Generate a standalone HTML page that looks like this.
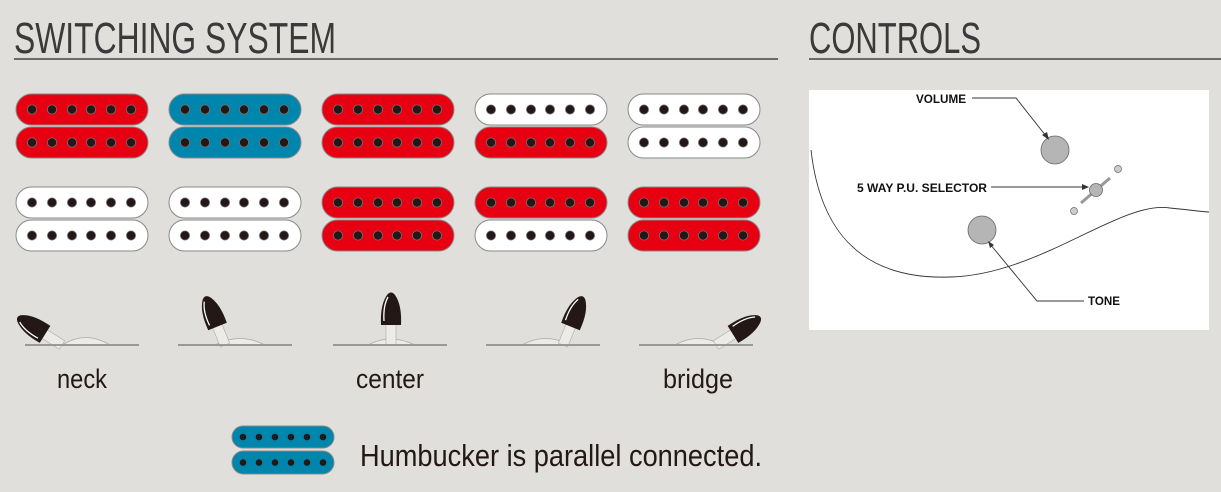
<!DOCTYPE html>
<html><head><meta charset="utf-8"><style>
html,body{margin:0;padding:0;background:#e0dfdb;}
svg{display:block}
</style></head><body>
<svg width="1221" height="492" viewBox="0 0 1221 492" xmlns="http://www.w3.org/2000/svg">
<defs>
<g id="dots">
<circle cx="32" cy="0" r="4.6"/><circle cx="52" cy="0" r="4.6"/><circle cx="72" cy="0" r="4.6"/><circle cx="91" cy="0" r="4.6"/><circle cx="111" cy="0" r="4.6"/><circle cx="131" cy="0" r="4.6"/>
</g>
<g id="ldots">
<circle cx="243" cy="0" r="3.3"/><circle cx="259" cy="0" r="3.3"/><circle cx="275" cy="0" r="3.3"/><circle cx="291" cy="0" r="3.3"/><circle cx="307" cy="0" r="3.3"/><circle cx="323" cy="0" r="3.3"/>
</g>
<g id="knob">
<path d="M-5,0 L-5,-21 L5,-21 L5,0 Z" fill="#ecebe8" stroke="#aaa" stroke-width="0.6"/>
<path d="M-10,-20 L10,-20 Q11,-40 4,-50 Q0,-55 -4,-50 Q-11,-40 -10,-20 Z" fill="#231815"/>
<path d="M-7,-24 Q-8,-39 -3,-48" stroke="#fff" stroke-width="1.3" fill="none"/>
</g>
</defs>
<g font-family="Liberation Sans, sans-serif">
<text x="14" y="53" font-size="44" fill="#3a3a3a" textLength="322" lengthAdjust="spacingAndGlyphs">SWITCHING SYSTEM</text>
<rect x="14" y="58" width="764" height="2" fill="#6b6b6b"/>
<text x="809" y="53" font-size="44" fill="#3a3a3a" textLength="172" lengthAdjust="spacingAndGlyphs">CONTROLS</text>
<rect x="809" y="58" width="412" height="2" fill="#6b6b6b"/>
</g>
<g stroke="#888" stroke-width="1">
<g fill="#e60012">
<rect x="16" y="94" width="132" height="31" rx="15.5"/><rect x="16" y="127" width="132" height="31" rx="15.5"/>
<rect x="322" y="94" width="132" height="31" rx="15.5"/><rect x="322" y="127" width="132" height="31" rx="15.5"/>
<rect x="475" y="127" width="132" height="31" rx="15.5"/>
<rect x="322" y="187" width="132" height="31" rx="15.5"/><rect x="322" y="220" width="132" height="31" rx="15.5"/>
<rect x="475" y="187" width="132" height="31" rx="15.5"/>
<rect x="628" y="187" width="132" height="31" rx="15.5"/><rect x="628" y="220" width="132" height="31" rx="15.5"/>
</g>
<g fill="#0085ad">
<rect x="169" y="94" width="132" height="31" rx="15.5"/><rect x="169" y="127" width="132" height="31" rx="15.5"/>
<rect x="232" y="426" width="102" height="22" rx="11"/><rect x="232" y="451" width="102" height="23" rx="11.5"/>
</g>
<g fill="#fff">
<rect x="475" y="94" width="132" height="31" rx="15.5"/>
<rect x="628" y="94" width="132" height="31" rx="15.5"/><rect x="628" y="127" width="132" height="31" rx="15.5"/>
<rect x="16" y="187" width="132" height="31" rx="15.5"/><rect x="16" y="220" width="132" height="31" rx="15.5"/>
<rect x="169" y="187" width="132" height="31" rx="15.5"/><rect x="169" y="220" width="132" height="31" rx="15.5"/>
<rect x="475" y="220" width="132" height="31" rx="15.5"/>
</g>
</g>
<g fill="#231815" stroke="#777" stroke-width="0.8">
<use href="#dots" x="0" y="109.5"/><use href="#dots" x="0" y="142.5"/>
<use href="#dots" x="153" y="109.5"/><use href="#dots" x="153" y="142.5"/>
<use href="#dots" x="306" y="109.5"/><use href="#dots" x="306" y="142.5"/>
<use href="#dots" x="459" y="109.5"/><use href="#dots" x="459" y="142.5"/>
<use href="#dots" x="612" y="109.5"/><use href="#dots" x="612" y="142.5"/>
<use href="#dots" x="0" y="202.5"/><use href="#dots" x="0" y="235.5"/>
<use href="#dots" x="153" y="202.5"/><use href="#dots" x="153" y="235.5"/>
<use href="#dots" x="306" y="202.5"/><use href="#dots" x="306" y="235.5"/>
<use href="#dots" x="459" y="202.5"/><use href="#dots" x="459" y="235.5"/>
<use href="#dots" x="612" y="202.5"/><use href="#dots" x="612" y="235.5"/>
</g>
<g fill="#231815">
<use href="#ldots" x="0" y="437"/><use href="#ldots" x="0" y="462.5"/>
</g>
<g>
<path d="M62,345 Q86,330 110,345 Z" fill="#ecebe8" stroke="#aaa" stroke-width="0.8"/>
<use href="#knob" transform="translate(62,345) rotate(-58)"/>
<rect x="25" y="344" width="114" height="2" fill="#999"/>

<path d="M215,345 Q240,332 265,345 Z" fill="#ecebe8" stroke="#aaa" stroke-width="0.8"/>
<use href="#knob" transform="translate(225,345) rotate(-22)"/>
<rect x="178" y="344" width="114" height="2" fill="#999"/>

<path d="M368,345 Q390,333 415,345 Z" fill="#ecebe8" stroke="#aaa" stroke-width="0.8"/>
<use href="#knob" transform="translate(391,345)"/>
<rect x="333" y="344" width="114" height="2" fill="#999"/>

<path d="M522,345 Q545,332 570,345 Z" fill="#ecebe8" stroke="#aaa" stroke-width="0.8"/>
<use href="#knob" transform="translate(563,345) rotate(22)"/>
<rect x="486" y="344" width="114" height="2" fill="#999"/>

<path d="M675,345 Q698,332 722,345 Z" fill="#ecebe8" stroke="#aaa" stroke-width="0.8"/>
<use href="#knob" transform="translate(716,345) rotate(58)"/>
<rect x="639" y="344" width="114" height="2" fill="#999"/>
</g>
<g font-family="Liberation Sans, sans-serif" font-size="27" fill="#231815" text-anchor="middle">
<text x="82" y="388" textLength="50" lengthAdjust="spacingAndGlyphs">neck</text>
<text x="390" y="388" textLength="68" lengthAdjust="spacingAndGlyphs">center</text>
<text x="698" y="388" textLength="70" lengthAdjust="spacingAndGlyphs">bridge</text>
</g>
<text x="360" y="466" font-family="Liberation Sans, sans-serif" font-size="31" fill="#231815" textLength="402" lengthAdjust="spacingAndGlyphs">Humbucker is parallel connected.</text>
<rect x="809" y="90" width="400" height="240" fill="#fff"/>
<path d="M811,150 C820,230 860,280 950,277 C1040,275 1120,200 1170,208 C1190,210 1205,212 1209,212" fill="none" stroke="#333" stroke-width="0.9"/>
<circle cx="1055" cy="150" r="14" fill="#b5b5b5" stroke="#666" stroke-width="0.8"/>
<circle cx="982" cy="230" r="14" fill="#b5b5b5" stroke="#666" stroke-width="0.8"/>
<line x1="1081" y1="203" x2="1110" y2="178" stroke="#999" stroke-width="3"/>
<circle cx="1096" cy="190" r="6.5" fill="#b5b5b5" stroke="#666" stroke-width="0.8"/>
<circle cx="1118" cy="169" r="3.5" fill="#ccc" stroke="#666" stroke-width="0.7"/>
<circle cx="1074" cy="211" r="3.5" fill="#ccc" stroke="#666" stroke-width="0.7"/>
<g stroke="#333" stroke-width="0.9" fill="none">
<polyline points="972,98 1016,98 1046,136"/>
<line x1="991" y1="187" x2="1084" y2="187"/>
<polyline points="1084,301 1037,301 990,244"/>
</g>
<g fill="#333">
<polygon points="1049,140 1042,135 1047,132"/>
<polygon points="1089,187 1082,184 1082,190"/>
<polygon points="988,241 994,245 990,248"/>
</g>
<g font-family="Liberation Sans, sans-serif" font-weight="bold" font-size="12" fill="#111">
<text x="916" y="103" textLength="50" lengthAdjust="spacingAndGlyphs">VOLUME</text>
<text x="857" y="192" textLength="130" lengthAdjust="spacingAndGlyphs">5 WAY P.U. SELECTOR</text>
<text x="1088" y="305" textLength="32" lengthAdjust="spacingAndGlyphs">TONE</text>
</g>
</svg>
</body></html>
